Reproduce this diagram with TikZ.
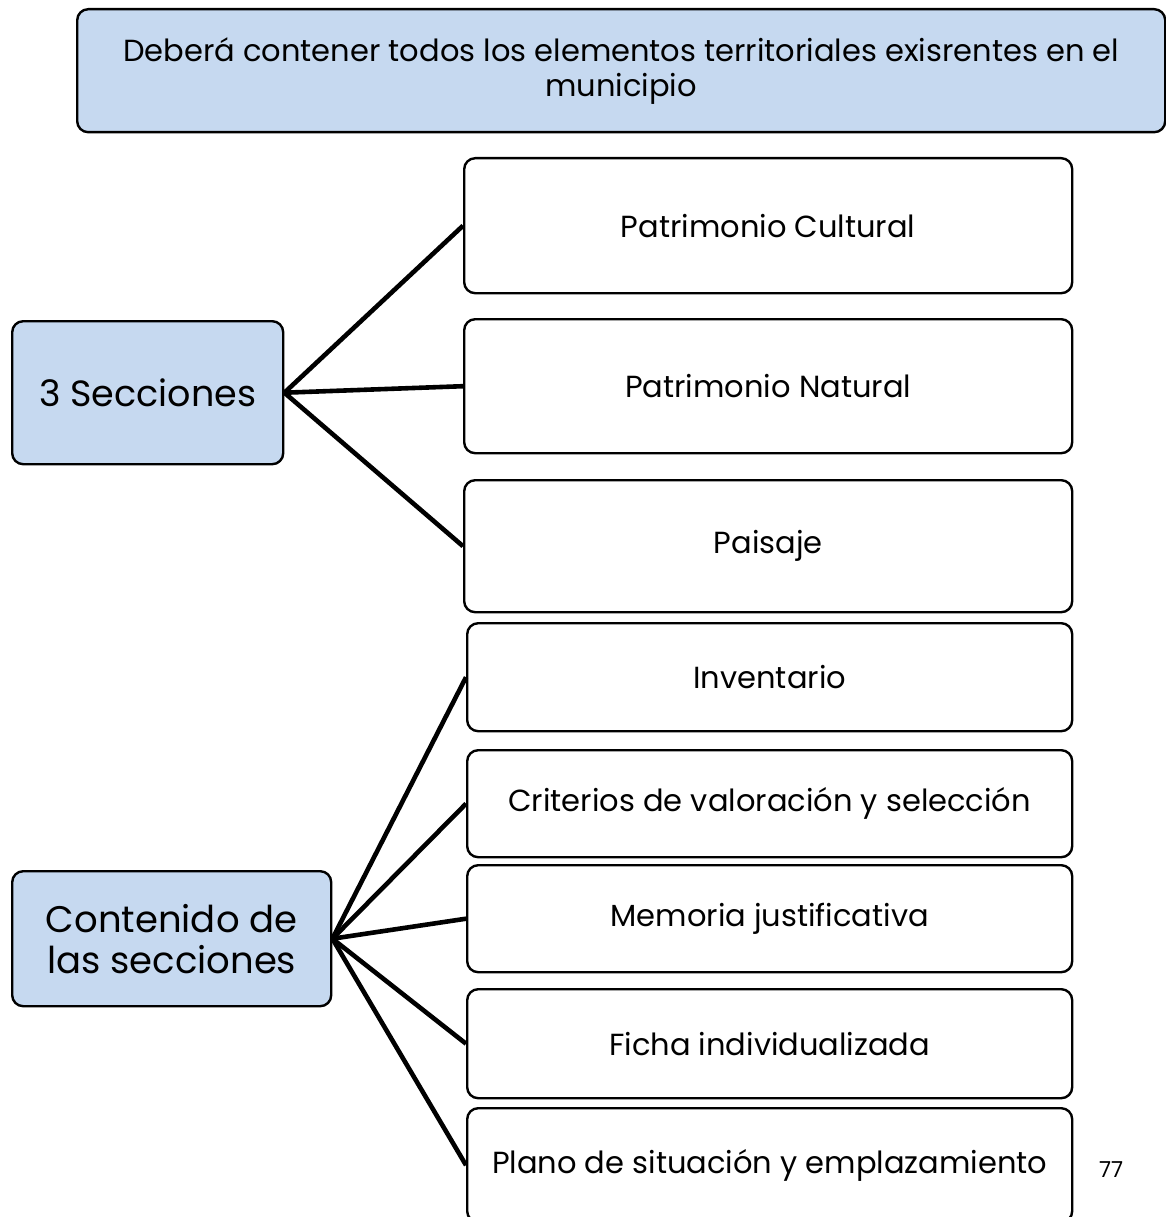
\documentclass[tikz,border=0pt]{standalone}
\usepackage{fontspec}
\setmainfont{Poppins}
\definecolor{boxblue}{HTML}{C6D9F0}
\begin{document}
\begin{tikzpicture}[x=1pt,y=-1pt,
  bluebox/.style={draw=black,line width=2.4pt,fill=boxblue,rounded corners=11pt,anchor=north west,align=center,inner sep=0pt},
  whitebox/.style={draw=black,line width=2.4pt,fill=white,rounded corners=11pt,anchor=north west,align=center,inner sep=0pt,minimum width=605pt,font=\fontsize{30.5}{36}\selectfont},
  link/.style={line width=4.6pt,black}]
\useasboundingbox (0,0) rectangle (1166,1217);
% top box
\node[bluebox,minimum width=1088pt,minimum height=123pt,font=\fontsize{30.5}{35}\selectfont] (top) at (76,8)
  {Deberá contener todos los elementos territoriales exisrentes en el\\municipio};
% left boxes
\node[bluebox,minimum width=271pt,minimum height=143pt,font=\fontsize{36.5}{42}\selectfont] (sec) at (11,320) {3 Secciones};
\node[bluebox,minimum width=319pt,minimum height=135pt,font=\fontsize{37}{41}\selectfont] (cont) at (11,870) {Contenido de\\las secciones};
% right boxes, group 1
\node[whitebox,minimum width=608pt,minimum height=135pt] (cult) at (463,157) {Patrimonio Cultural};
\node[whitebox,minimum width=608pt,minimum height=134pt] (nat) at (463,318) {Patrimonio Natural};
\node[whitebox,minimum width=608pt,minimum height=132pt] (pai) at (463,479) {Paisaje};
% right boxes, group 2
\node[whitebox,minimum height=108pt] (inv) at (466,622) {Inventario};
\node[whitebox,minimum height=107pt] (crit) at (466,749) {Criterios de valoración y selección};
\node[whitebox,minimum height=107pt] (mem) at (466,864) {Memoria justificativa};
\node[whitebox,minimum height=109pt] (fic) at (466,988) {Ficha individualizada};
\node[whitebox,minimum height=114pt] (pla) at (466,1107) {Plano de situación y emplazamiento};
% connectors
\draw[link] (sec.east) -- (cult.west);
\draw[link] (sec.east) -- (nat.west);
\draw[link] (sec.east) -- (pai.west);
\draw[link] (cont.east) -- (inv.west);
\draw[link] (cont.east) -- (crit.west);
\draw[link] (cont.east) -- (mem.west);
\draw[link] (cont.east) -- (fic.west);
\draw[link] (cont.east) -- (pla.west);
% page number
\node[font=\fontsize{22}{24}\selectfont] (pg) at (1111,1170) {77};
\end{tikzpicture}
\end{document}
